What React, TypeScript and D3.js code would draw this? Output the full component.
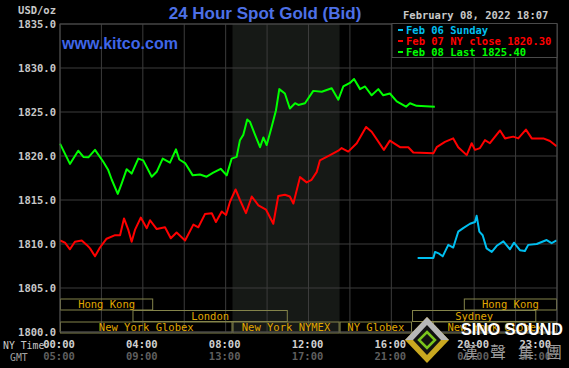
import React from 'react';
import { scaleLinear, line, range } from 'd3';

// hours since 00:00 NY time and bid prices
const feb08Hours = [0, 0.48, 0.88, 1.13, 1.37, 1.69, 2.09, 2.33, 2.5, 2.79, 2.98, 3.22, 3.46, 3.78, 4.02, 4.43, 4.67, 4.96, 5.31, 5.6, 5.76, 6.04, 6.41, 6.76, 7.08, 7.4, 7.76, 8.05, 8.29, 8.53, 8.69, 8.85, 9.04, 9.17, 9.42, 9.66, 9.82, 9.98, 10.22, 10.43, 10.59, 10.86, 11.1, 11.35, 11.51, 11.83, 12.23, 12.64, 13.12, 13.44, 13.68, 14.0, 14.2, 14.49, 14.73, 15.05, 15.37, 15.61, 15.93, 16.26, 16.71, 16.9, 17.22, 18.1];
const feb08Values = [1821.4, 1819.1, 1820.6, 1819.9, 1819.85, 1820.7, 1819.35, 1818.4, 1817.3, 1815.7, 1816.9, 1818.5, 1818.0, 1819.7, 1819.5, 1817.65, 1818.2, 1819.7, 1819.25, 1820.75, 1819.6, 1819.2, 1817.8, 1817.9, 1817.65, 1818.1, 1818.55, 1817.8, 1819.7, 1819.9, 1821.8, 1822.4, 1824.15, 1823.9, 1822.4, 1821.0, 1822.1, 1821.25, 1823.3, 1825.2, 1827.6, 1827.1, 1825.4, 1826.0, 1825.8, 1826.0, 1827.4, 1827.3, 1827.7, 1826.4, 1827.9, 1828.3, 1828.75, 1827.6, 1827.9, 1826.9, 1827.6, 1826.9, 1827.1, 1826.2, 1825.6, 1826.0, 1825.7, 1825.6];

const feb07Hours = [0, 0.24, 0.48, 0.72, 1.05, 1.29, 1.45, 1.69, 1.93, 2.25, 2.66, 2.9, 3.09, 3.3, 3.46, 3.62, 3.9, 4.19, 4.35, 4.67, 5.07, 5.35, 5.63, 6.04, 6.44, 6.68, 7.0, 7.33, 7.53, 7.81, 8.02, 8.21, 8.48, 8.69, 8.98, 9.26, 9.58, 9.95, 10.3, 10.54, 10.86, 11.1, 11.27, 11.59, 11.91, 12.15, 12.4, 12.55, 13.04, 13.44, 13.6, 13.92, 14.33, 14.78, 15.05, 15.64, 15.93, 16.42, 16.82, 17.06, 18.03, 18.19, 18.59, 18.99, 19.23, 19.64, 19.88, 20.04, 20.28, 20.52, 20.76, 21.25, 21.49, 21.89, 22.13, 22.5, 22.78, 23.34, 23.66, 23.98];
const feb07Values = [1810.4, 1810.15, 1809.4, 1810.26, 1810.4, 1809.9, 1809.5, 1808.6, 1809.6, 1810.6, 1811.0, 1811.0, 1812.9, 1811.6, 1810.26, 1811.6, 1813.0, 1811.8, 1812.7, 1811.7, 1811.9, 1810.65, 1811.3, 1810.4, 1812.2, 1811.9, 1813.4, 1813.5, 1812.5, 1813.7, 1813.3, 1814.8, 1816.2, 1815.0, 1813.5, 1815.4, 1814.4, 1813.9, 1812.3, 1815.45, 1815.6, 1815.4, 1814.6, 1817.6, 1817.0, 1817.3, 1818.2, 1819.5, 1820.1, 1820.6, 1820.9, 1820.5, 1821.45, 1823.3, 1822.75, 1820.7, 1821.75, 1821.0, 1821.0, 1820.4, 1820.3, 1821.0, 1821.6, 1822.0, 1821.0, 1820.1, 1821.45, 1820.7, 1820.9, 1821.8, 1821.45, 1822.9, 1822.0, 1822.2, 1822.0, 1823.0, 1822.0, 1822.0, 1821.7, 1821.1];

const feb06Hours = [17.27, 18.03, 18.11, 18.31, 18.48, 18.75, 18.99, 19.23, 19.47, 19.8, 20.04, 20.12, 20.25, 20.41, 20.6, 20.85, 21.09, 21.41, 21.73, 21.92, 22.21, 22.45, 22.61, 23.02, 23.5, 23.74, 23.98];
const feb06Values = [1808.4, 1808.4, 1809.1, 1808.9, 1808.6, 1809.9, 1809.6, 1811.4, 1811.8, 1812.3, 1812.5, 1813.2, 1811.4, 1811.0, 1809.5, 1809.1, 1809.8, 1810.3, 1809.4, 1810.15, 1809.3, 1809.2, 1809.9, 1810.0, 1810.45, 1810.1, 1810.4];

const priceTicks = [1800, 1805, 1810, 1815, 1820, 1825, 1830, 1835];
const timeTicks = [0, 4, 8, 12, 16, 20, 23];
const nyLabels = ['00:00', '04:00', '08:00', '12:00', '16:00', '20:00', '23:00'];
const gmtLabels = ['05:00', '09:00', '13:00', '17:00', '21:00', '01:00', '04:00'];

const sessionNames = ['Hong Kong', 'London', 'New York Globex', 'New York NYMEX', 'NY Globex', 'Sydney', 'Hong Kong', 'New York Globex'];
const sessionStart = [0, 3.5, 0, 8.33, 13.5, 17, 19.5, 18];
const sessionEnd = [4.5, 11, 8.33, 13.5, 17, 23, 24, 24];
const sessionRow = [0, 1, 2, 2, 2, 1, 0, 2];

const legendLabels = ['Feb 06 Sunday', 'Feb 07 NY close 1820.30', 'Feb 08 Last 1825.40'];
const legendColors = ['#00bff0', '#ff0000', '#00ff00'];

const mono = '"DejaVu Sans Mono", monospace';
const sans = "'Liberation Sans', Arial, sans-serif";

export default function App() {
  const x = scaleLinear().domain([0, 24]).range([60, 557]);
  const y = scaleLinear().domain([1800, 1835]).range([332, 24]);

  const mk = (hours: number[], values: number[]) =>
    line<number>()
      .x((_, i) => x(hours[i]))
      .y((v) => y(v))(values) || '';

  const series = [
    { d: mk(feb07Hours, feb07Values), color: legendColors[1] },
    { d: mk(feb08Hours, feb08Values), color: legendColors[2] },
    { d: mk(feb06Hours, feb06Values), color: legendColors[0] },
  ];

  const rowTop = [299, 310.5, 322];
  const rowH = 11;

  return (
    <svg
      width={569}
      height={368}
      style={{ position: 'absolute', left: 0, top: 0, background: '#000' }}
    >
      <rect width={569} height={368} fill="#000" />

      {/* NYMEX session shading */}
      <rect x={x(8.33)} y={y(1835)} width={x(13.5) - x(8.33)} height={y(1800) - y(1835)} fill="#161916" />

      {/* grid */}
      {priceTicks.map((t) => (
        <line key={'h' + t} x1={x(0)} x2={x(24)} y1={y(t)} y2={y(t)} stroke="#3c3c3c" />
      ))}
      {range(0, 25, 2).map((h) => (
        <line key={'v' + h} x1={x(h)} x2={x(h)} y1={y(1835)} y2={y(1800)} stroke="#3c3c3c" />
      ))}

      {/* trading sessions */}
      {sessionNames.map((name, i) => {
        const x0 = x(sessionStart[i]);
        const x1 = x(sessionEnd[i]);
        const top = rowTop[sessionRow[i]];
        return (
          <g key={'s' + i}>
            <rect x={x0 + 0.5} y={top} width={x1 - x0 - 1} height={rowH} fill="none" stroke="#84844a" />
            <text x={(x0 + x1) / 2} y={top + 9} textAnchor="middle" fill="#e0a800" fontFamily={mono} fontSize={10.5}>
              {name}
            </text>
          </g>
        );
      })}

      {/* price lines */}
      {series.map((s, i) => (
        <path key={'l' + i} d={s.d} fill="none" stroke={s.color} strokeWidth={2} strokeLinejoin="round" />
      ))}

      {/* y labels */}
      <text x={56} y={14} textAnchor="end" fill="#c8c8c8" fontFamily={mono} fontWeight="bold" fontSize={10.5}>
        USD/oz
      </text>
      {priceTicks.map((t) => (
        <text key={'yl' + t} x={56} y={y(t) + 4} textAnchor="end" fill="#c8c8c8" fontFamily={mono} fontWeight="bold" fontSize={10.5}>
          {t.toFixed(1)}
        </text>
      ))}

      {/* x labels */}
      <text x={3} y={349} fill="#c8c8c8" fontFamily={mono} fontSize={9.8}>NY Time</text>
      <text x={10} y={361} fill="#a0a0a0" fontFamily={mono} fontSize={9.8}>GMT</text>
      {timeTicks.map((h, i) => (
        <g key={'xl' + h}>
          <text x={x(h) - 1} y={348} textAnchor="middle" fill="#d0d0d0" fontFamily={mono} fontWeight="bold" fontSize={10.5}>
            {nyLabels[i]}
          </text>
          <text x={x(h) - 1} y={360} textAnchor="middle" fill="#5e5e5e" fontFamily={mono} fontWeight="bold" fontSize={10.5}>
            {gmtLabels[i]}
          </text>
        </g>
      ))}

      {/* plot border */}
      <rect x={x(0)} y={y(1835)} width={x(24) - x(0)} height={y(1800) - y(1835)} fill="none" stroke="#4a4a4a" />

      {/* titles */}
      <text x={265} y={19} textAnchor="middle" fill="#4d70e6" fontFamily={sans} fontSize={17} fontWeight="bold">
        24 Hour Spot Gold (Bid)
      </text>
      <text x={62} y={49} fill="#3f66e8" fontFamily={sans} fontSize={16} fontWeight="bold">
        www.kitco.com
      </text>
      <text x={403} y={19} fill="#c8c8c8" fontFamily={mono} fontWeight="bold" fontSize={10.5}>
        February 08, 2022 18:07
      </text>

      {/* legend */}
      <rect x={392} y={23.5} width={165} height={34} fill="#000" stroke="#4a4a4a" />
      {legendLabels.map((lab, i) => (
        <g key={'lg' + i}>
          <line x1={398} x2={403} y1={30 + i * 11} y2={30 + i * 11} stroke={legendColors[i]} strokeWidth={2} />
          <text x={406} y={34 + i * 11} fill={legendColors[i]} fontFamily={mono} fontWeight="bold" fontSize={10.5}>
            {lab}
          </text>
        </g>
      ))}

      {/* watermark */}
      <g transform="translate(427,340)">
        <polygon points="0,-23 22,0 0,23 -22,0" fill="#c9a820" />
        <polygon points="0,-23 22,0 0,0 -22,0" fill="#b8b8b8" />
        <polygon points="0,-15 14,0 0,15 -14,0" fill="#111" />
        <polygon points="0,-8 8,0 0,8 -8,0" fill="none" stroke="#7ac41c" strokeWidth={2.5} />
      </g>
      <text x={461} y={335} fill="#ffffff" fontFamily={sans} fontWeight="bold" fontSize={16.5} textLength={102} lengthAdjust="spacingAndGlyphs">
        SINO SOUND
      </text>
      <text x={462} y={358} fill="#9a9a9a" fontFamily="'Noto Sans CJK TC', sans-serif" fontSize={16} textLength={100} lengthAdjust="spacing">
        漢聲集團
      </text>
    </svg>
  );
}
